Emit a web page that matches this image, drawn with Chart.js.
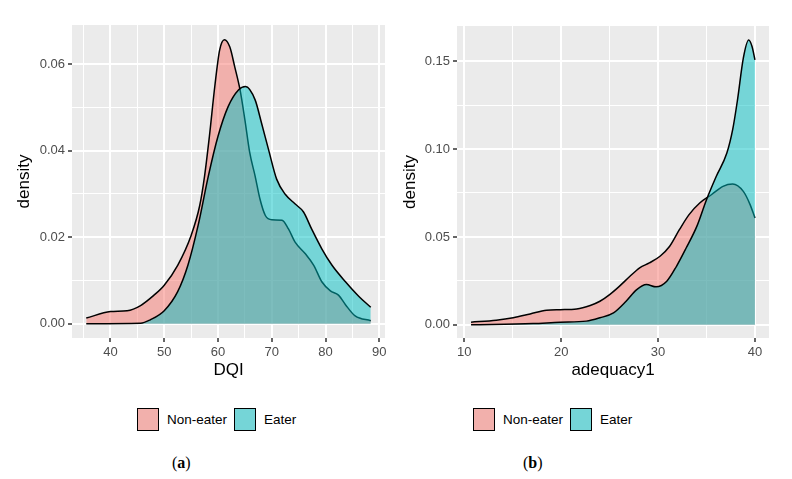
<!DOCTYPE html>
<html>
<head>
<meta charset="utf-8">
<script src="https://cdn.jsdelivr.net/npm/chart.js@4/dist/chart.umd.min.js"></script>
<style>
  body { margin: 0; background: #fff; width: 792px; height: 479px; position: relative; overflow: hidden; font-family: "Liberation Sans", Arial, sans-serif; }
  .panel { position: absolute; top: 0; height: 390px; }
  .legend { position: absolute; top: 407px; height: 25px; display: flex; align-items: center; font-size: 13.5px; color: #000; }
  .key { width: 20px; height: 21px; border: 1.5px solid #000; margin-right: 8px; }
  .legend span { margin-right: 7px; }
  .caption { position: absolute; top: 454px; font-family: "Liberation Serif", "DejaVu Serif", serif; font-size: 16px; color: #000; }
</style>
</head>
<body>
<div class="panel" style="left:0;width:400px"><canvas id="chartA"></canvas></div>
<div class="panel" style="left:400px;width:392px"><canvas id="chartB"></canvas></div>

<div class="legend" style="left:137px">
  <div class="key" style="background:#F2B0AC"></div><span>Non-eater</span>
  <div class="key" style="background:#75D5D7"></div><span>Eater</span>
</div>
<div class="legend" style="left:473px">
  <div class="key" style="background:#F2B0AC"></div><span>Non-eater</span>
  <div class="key" style="background:#75D5D7"></div><span>Eater</span>
</div>
<div class="caption" style="left:172px">(<b>a</b>)</div>
<div class="caption" style="left:523px">(<b>b</b>)</div>

<script>
// Painel (a): DQI
const dqiNonEaterX = [35.5, 40, 43.1, 45.6, 48.1, 50, 52.5, 55, 56.6, 57.5, 58.4, 59.4, 60.3, 61.2, 62.2, 63.1, 64.1, 65, 65.9, 66.9, 67.8, 68.8, 70, 71.9, 73.1, 74.3, 76.2, 77.8, 79.3, 80.9, 82.4, 83.7, 85.5, 88.4];
const dqiNonEaterY = [0.0013, 0.0028, 0.0030, 0.0042, 0.0066, 0.0089, 0.0135, 0.0204, 0.0273, 0.0341, 0.0433, 0.0548, 0.0632, 0.0656, 0.0639, 0.0594, 0.0540, 0.0471, 0.0395, 0.0341, 0.0288, 0.0250, 0.0240, 0.0239, 0.0219, 0.0189, 0.0162, 0.0135, 0.0097, 0.0076, 0.0066, 0.0044, 0.0018, 0.0007];
const dqiEaterX = [35.5, 45.6, 47.4, 50, 52.5, 54.4, 56.3, 58.2, 60.0, 61.9, 63.8, 65.1, 66.9, 68.1, 69.4, 70.9, 72.5, 74.3, 75.9, 77.4, 79.3, 81.2, 83.7, 86.2, 88.4];
const dqiEaterY = [0, 0.0001, 0.0009, 0.0030, 0.0074, 0.0135, 0.0227, 0.0341, 0.0433, 0.0502, 0.0540, 0.0548, 0.0517, 0.0463, 0.0402, 0.0334, 0.0299, 0.0277, 0.0258, 0.0219, 0.0173, 0.0135, 0.0097, 0.0063, 0.0038];
const dqiXTicks = [40, 50, 60, 70, 80, 90];
const dqiXMinor = [35, 45, 55, 65, 75, 85];
const dqiYTicks = [0, 0.02, 0.04, 0.06];
const dqiYMinor = [0.01, 0.03, 0.05];

// Painel (b): adequacy1
const adqNonEaterX = [10.7, 13.3, 15.05, 16.8, 18.5, 19.9, 21.6, 23.0, 24.0, 25.0, 26.0, 27.1, 28.1, 29.1, 30.2, 31.2, 32.2, 33.2, 34.3, 35.5, 36.7, 37.7, 38.8, 39.5, 40];
const adqNonEaterY = [0.0015, 0.0026, 0.0040, 0.0062, 0.0083, 0.0086, 0.0090, 0.0110, 0.0134, 0.0172, 0.0219, 0.0276, 0.0324, 0.0352, 0.0390, 0.0447, 0.0541, 0.0627, 0.0693, 0.0740, 0.0788, 0.0801, 0.0759, 0.0684, 0.0608];
const adqEaterX = [10.7, 17.1, 19.9, 22.6, 24.0, 25.4, 26.7, 27.8, 28.8, 29.8, 30.9, 31.9, 32.9, 34.0, 35.0, 36.0, 37.1, 37.7, 38.2, 38.8, 39.35, 39.7, 40];
const adqEaterY = [0, 0.0007, 0.0015, 0.0021, 0.0040, 0.0068, 0.0134, 0.0200, 0.0229, 0.0216, 0.0248, 0.0333, 0.0437, 0.0560, 0.0712, 0.0844, 0.0977, 0.1110, 0.1280, 0.1517, 0.1620, 0.1583, 0.1507];
const adqXTicks = [10, 20, 30, 40];
const adqXMinor = [15, 25, 35];
const adqYTicks = [0, 0.05, 0.10, 0.15];
const adqYMinor = [0.025, 0.075, 0.125];

const groupNames = ['Non-eater', 'Eater'];
const fillColors = ['rgba(248,118,109,0.5)', 'rgba(0,191,196,0.5)'];

// Fundo cinza do painel (estilo ggplot)
const panelBg = {
  id: 'panelBg',
  beforeDraw(chart) {
    const { ctx, chartArea: a } = chart;
    ctx.save();
    ctx.fillStyle = '#EBEBEB';
    ctx.fillRect(a.left, a.top, a.right - a.left, a.bottom - a.top);
    ctx.restore();
  }
};

function toPoints(xs, ys) {
  return xs.map((x, i) => ({ x: x, y: ys[i] }));
}

function isMajor(v, majors) {
  return majors.some(m => Math.abs(m - v) < 1e-9);
}

function axis(cfg) {
  return {
    type: 'linear',
    min: cfg.min,
    max: cfg.max,
    afterBuildTicks: (scale) => {
      scale.ticks = cfg.major.concat(cfg.minor).sort((a, b) => a - b).map(v => ({ value: v }));
    },
    afterFit: (scale) => {
      if (cfg.width) scale.width = cfg.width;
      if (cfg.height) scale.height = cfg.height;
    },
    border: { display: false },
    grid: {
      color: '#FFFFFF',
      lineWidth: (c) => isMajor(c.tick.value, cfg.major) ? 2 : 1,
      tickColor: (c) => isMajor(c.tick.value, cfg.major) ? '#333333' : 'rgba(0,0,0,0)',
      tickWidth: 1.5,
      tickLength: 4
    },
    ticks: {
      autoSkip: false,
      maxRotation: 0,
      padding: 3,
      color: '#4D4D4D',
      font: { family: 'Liberation Sans', size: 13 },
      callback: (v) => isMajor(v, cfg.major) ? v.toFixed(cfg.digits) : ''
    },
    title: {
      display: true,
      text: cfg.title,
      color: '#000',
      font: { family: 'Liberation Sans', size: 17 },
      padding: cfg.titlePad
    }
  };
}

function makePanel(id, series, opts) {
  const datasets = series.map((s, i) => ({
    label: groupNames[i],
    data: toPoints(s[0], s[1]),
    borderColor: '#000',
    borderWidth: 1.5,
    backgroundColor: fillColors[i],
    fill: 'origin',
    pointRadius: 0,
    cubicInterpolationMode: 'monotone',
    order: i === 0 ? 1 : 0
  }));

  return new Chart(document.getElementById(id), {
    type: 'line',
    data: { datasets: datasets },
    options: {
      responsive: true,
      maintainAspectRatio: false,
      animation: false,
      layout: { padding: opts.padding },
      plugins: { legend: { display: false }, tooltip: { enabled: false } },
      scales: { x: axis(opts.x), y: axis(opts.y) }
    },
    plugins: [panelBg]
  });
}

makePanel('chartA', [[dqiNonEaterX, dqiNonEaterY], [dqiEaterX, dqiEaterY]], {
  padding: { left: 0, top: 25, right: 15, bottom: 0 },
  x: { min: 32.85, max: 91.05, major: dqiXTicks, minor: dqiXMinor, digits: 0, title: 'DQI', height: 52, titlePad: { top: 0, bottom: 9 } },
  y: { min: -0.0033, max: 0.069, major: dqiYTicks, minor: dqiYMinor, digits: 2, title: 'density', width: 72, titlePad: { top: 14, bottom: 0 } }
});

makePanel('chartB', [[adqNonEaterX, adqNonEaterY], [adqEaterX, adqEaterY]], {
  padding: { left: 0, top: 26, right: 23, bottom: 0 },
  x: { min: 9.25, max: 41.45, major: adqXTicks, minor: adqXMinor, digits: 0, title: 'adequacy1', height: 52, titlePad: { top: 0, bottom: 9 } },
  y: { min: -0.0075, max: 0.170, major: adqYTicks, minor: adqYMinor, digits: 2, title: 'density', width: 57, titlePad: { top: 0, bottom: 0 } }
});
</script>
</body>
</html>
